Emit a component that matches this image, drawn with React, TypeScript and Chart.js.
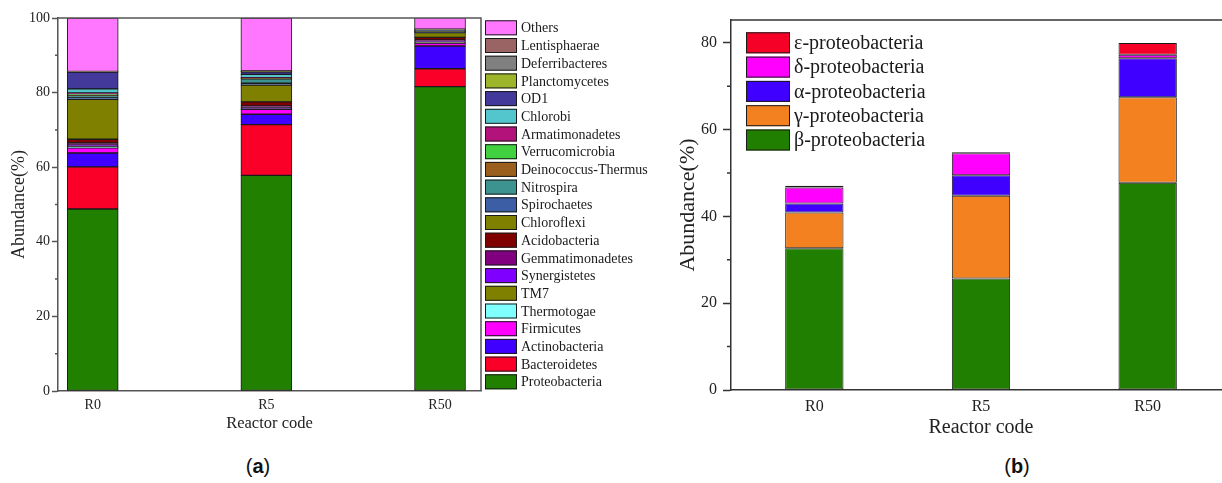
import React, { useEffect, useRef } from 'react';
import { Chart, registerables } from 'chart.js';

Chart.register(...registerables);

// ---------- Data: panel (a), phylum level (bottom of stack first) ----------
const reactorsA = ['R0', 'R5', 'R50'];
const Proteobacteria = [48.8, 57.8, 81.6];
const Bacteroidetes = [11.3, 13.6, 4.8];
const Actinobacteria = [3.7, 2.8, 6.1];
const Firmicutes = [1.4, 1.3, 0.8];
const Thermotogae = [0.1, 0.05, 0.05];
const TM7 = [0.2, 0.1, 0.15];
const Synergistetes = [0.4, 0.3, 0.2];
const Gemmatimonadetes = [0.6, 0.45, 0.4];
const Acidobacteria = [1.0, 1.1, 0.7];
const Chloroflexi = [10.7, 4.5, 1.3];
const Spirochaetes = [0.4, 0.5, 0.1];
const Nitrospira = [0.6, 1.2, 0.1];
const DeinococcusThermus = [0.1, 0.1, 0.05];
const Verrucomicrobia = [0.4, 0.1, 0.05];
const Armatimonadetes = [0.2, 0.1, 0.05];
const Chlorobi = [1.1, 0.9, 0.1];
const OD1 = [4.5, 0.7, 0.2];
const Planctomycetes = [0.05, 0.1, 0.1];
const Deferribacteres = [0.05, 0.05, 0.1];
const Lentisphaerae = [0.05, 0.05, 0.05];
const Others = [14.35, 14.2, 3.1];

const phylumNames = [
  'Proteobacteria', 'Bacteroidetes', 'Actinobacteria', 'Firmicutes', 'Thermotogae', 'TM7',
  'Synergistetes', 'Gemmatimonadetes', 'Acidobacteria', 'Chloroflexi', 'Spirochaetes',
  'Nitrospira', 'Deinococcus-Thermus', 'Verrucomicrobia', 'Armatimonadetes', 'Chlorobi',
  'OD1', 'Planctomycetes', 'Deferribacteres', 'Lentisphaerae', 'Others',
];
const phylumValues = [
  Proteobacteria, Bacteroidetes, Actinobacteria, Firmicutes, Thermotogae, TM7,
  Synergistetes, Gemmatimonadetes, Acidobacteria, Chloroflexi, Spirochaetes,
  Nitrospira, DeinococcusThermus, Verrucomicrobia, Armatimonadetes, Chlorobi,
  OD1, Planctomycetes, Deferribacteres, Lentisphaerae, Others,
];
const phylumColors = [
  '#218000', '#FA0028', '#3F00FF', '#FF00FF', '#80FFFF', '#808000',
  '#8000FF', '#800080', '#800000', '#7F7F00', '#3B5EA4',
  '#3C938F', '#9A5F1C', '#40D040', '#B3127B', '#52C6CC',
  '#42399A', '#9DB52B', '#808080', '#9B6464', '#FF77FF',
];

// ---------- Data: panel (b), Proteobacteria classes ----------
const reactorsB = ['R0', 'R5', 'R50'];
const betaProteo = [32.7, 25.7, 47.8];
const gammaProteo = [8.2, 19.1, 19.7];
const alphaProteo = [2.1, 4.7, 9.0];
const deltaProteo = [3.7, 5.1, 0.8];
const epsilonProteo = [0.4, 0.2, 2.7];

const classNames = ['β-proteobacteria', 'γ-proteobacteria', 'α-proteobacteria', 'δ-proteobacteria', 'ε-proteobacteria'];
const classValues = [betaProteo, gammaProteo, alphaProteo, deltaProteo, epsilonProteo];
const classColors = ['#207F00', '#F48120', '#3F00FF', '#FF00FF', '#F50027'];

const SERIF = "'Liberation Serif', 'Times New Roman', serif";

// Legend drawn beside / inside the plot from the dataset list (top of stack first)
const boxLegend = {
  id: 'boxLegend',
  afterDraw(chart: any, _args: any, opts: any) {
    const { ctx, chartArea } = chart;
    const ds = chart.data.datasets.slice().reverse();
    ctx.save();
    ctx.font = `${opts.fontSize}px ${SERIF}`;
    ctx.textBaseline = 'middle';
    ctx.textAlign = 'left';
    ds.forEach((d: any, i: number) => {
      const x = (opts.anchor === 'right' ? chartArea.right : chartArea.left) + opts.dx;
      const y = chartArea.top + opts.dy + i * opts.rowHeight;
      ctx.fillStyle = d.backgroundColor;
      ctx.fillRect(x, y, opts.boxWidth, opts.boxHeight);
      ctx.strokeStyle = '#1a1a1a';
      ctx.lineWidth = 1;
      ctx.strokeRect(x + 0.5, y + 0.5, opts.boxWidth - 1, opts.boxHeight - 1);
      ctx.fillStyle = '#1a1a1a';
      ctx.fillText(d.label, x + opts.boxWidth + opts.gap, y + opts.boxHeight / 2 + 1);
    });
    ctx.restore();
  },
};

// Plot frame (top + right) and short minor ticks on the y axis
const frameMinor = {
  id: 'frameMinor',
  afterDraw(chart: any, _args: any, opts: any) {
    const { ctx, chartArea } = chart;
    const { left, right, top, bottom } = chartArea;
    const y = chart.scales.y;
    ctx.save();
    ctx.strokeStyle = opts.color;
    ctx.lineWidth = opts.width;
    ctx.beginPath();
    ctx.moveTo(left, top);
    ctx.lineTo(right, top);
    ctx.lineTo(right, bottom);
    ctx.stroke();
    ctx.beginPath();
    const ticks = y.ticks;
    for (let i = 0; i < ticks.length - 1; i++) {
      const mid = (ticks[i].value + ticks[i + 1].value) / 2;
      const p = y.getPixelForValue(mid);
      ctx.moveTo(left - opts.minorLength, p);
      ctx.lineTo(left, p);
    }
    ctx.stroke();
    ctx.restore();
  },
};

function PanelA() {
  const ref = useRef<HTMLCanvasElement>(null);
  useEffect(() => {
    const axisColor = '#555';
    const chart = new Chart(ref.current as HTMLCanvasElement, {
      type: 'bar',
      data: {
        datasets: phylumNames.map((name, k) => ({
          label: name,
          data: phylumValues[k].map((v, i) => ({ x: i, y: v })),
          backgroundColor: phylumColors[k],
          borderColor: '#1a1a1a',
          borderWidth: 1,
          borderSkipped: false,
          barThickness: 51,
        })),
      },
      options: {
        animation: false,
        responsive: false,
        maintainAspectRatio: false,
        layout: { padding: { left: 0, right: 184, top: 18, bottom: 0 } },
        plugins: {
          legend: { display: false },
          tooltip: { enabled: false },
          boxLegend: { anchor: 'right', dx: 4, dy: 2.3, rowHeight: 17.7, boxWidth: 32, boxHeight: 15, gap: 4, fontSize: 14 },
          frameMinor: { color: axisColor, width: 1.5, minorLength: 3 },
        } as any,
        scales: {
          x: {
            type: 'linear',
            stacked: true,
            min: -0.2,
            max: 2.236,
            offset: false,
            grid: { display: false, drawTicks: false },
            border: { color: axisColor, width: 1.5 },
            ticks: {
              stepSize: 1,
              includeBounds: false,
              padding: 6,
              color: '#222',
              font: { family: SERIF, size: 14 },
              callback: (v: any) => reactorsA[v] ?? '',
            },
            title: {
              display: true,
              text: 'Reactor code',
              color: '#222',
              font: { family: SERIF, size: 16.5 },
              padding: { top: 0, bottom: 11 },
            },
            afterFit: (s: any) => { s.height = 54; },
          },
          y: {
            stacked: true,
            min: 0,
            max: 100,
            grid: { drawOnChartArea: false, tickLength: 6, tickColor: axisColor, tickWidth: 1.5 },
            border: { color: axisColor, width: 1.5 },
            ticks: { stepSize: 20, padding: 2, color: '#222', font: { family: SERIF, size: 14 } },
            title: {
              display: true,
              text: 'Abundance(%)',
              color: '#222',
              font: { family: SERIF, size: 18 },
              padding: { top: 8, bottom: 0 },
            },
            afterFit: (s: any) => { s.width = 58; },
          },
        },
      } as any,
      plugins: [boxLegend, frameMinor],
    });
    return () => chart.destroy();
  }, []);
  return <canvas ref={ref} width={665} height={445} style={{ position: 'absolute', left: 0, top: 0, width: 665, height: 445 }} />;
}

function PanelB() {
  const ref = useRef<HTMLCanvasElement>(null);
  useEffect(() => {
    const axisColor = '#333';
    const chart = new Chart(ref.current as HTMLCanvasElement, {
      type: 'bar',
      data: {
        labels: reactorsB,
        datasets: classNames.map((name, k) => ({
          label: name,
          data: classValues[k],
          backgroundColor: classColors[k],
          borderColor: '#1a1a1a',
          borderWidth: 1,
          borderSkipped: false,
          categoryPercentage: 1,
          barPercentage: 0.35,
        })),
      },
      options: {
        animation: false,
        responsive: false,
        maintainAspectRatio: false,
        layout: { padding: { left: 0, right: 14, top: 20, bottom: 0 } },
        plugins: {
          legend: { display: false },
          tooltip: { enabled: false },
          boxLegend: { anchor: 'left', dx: 15, dy: 12.3, rowHeight: 24.3, boxWidth: 44, boxHeight: 21, gap: 4, fontSize: 20 },
          frameMinor: { color: axisColor, width: 1.5, minorLength: 4 },
        } as any,
        scales: {
          x: {
            stacked: true,
            grid: { display: false, drawTicks: false },
            border: { color: axisColor, width: 1.5 },
            ticks: { padding: 7, color: '#222', font: { family: SERIF, size: 16 } },
            title: {
              display: true,
              text: 'Reactor code',
              color: '#222',
              font: { family: SERIF, size: 20 },
              padding: { top: 0, bottom: 5 },
            },
            afterFit: (s: any) => { s.height = 55; },
          },
          y: {
            stacked: true,
            min: 0,
            max: 85.3,
            grid: { drawOnChartArea: false, tickLength: 8, tickColor: axisColor, tickWidth: 1.5 },
            border: { color: axisColor, width: 1.5 },
            ticks: { stepSize: 20, includeBounds: false, padding: 6, color: '#222', font: { family: SERIF, size: 16 } },
            title: {
              display: true,
              text: 'Abundance(%)',
              color: '#222',
              font: { family: SERIF, size: 22 },
              padding: { top: 10, bottom: 0 },
            },
            afterFit: (s: any) => { s.width = 66; },
          },
        },
      } as any,
      plugins: [boxLegend, frameMinor],
    });
    return () => chart.destroy();
  }, []);
  return <canvas ref={ref} width={580} height={445} style={{ position: 'absolute', left: 665, top: 0, width: 580, height: 445 }} />;
}

const panelLabelStyle: React.CSSProperties = {
  position: 'absolute',
  top: 466,
  transform: 'translate(-50%, -50%)',
  fontFamily: "'Liberation Sans', Arial, sans-serif",
  fontSize: 20,
  color: '#111',
  whiteSpace: 'nowrap',
};

export default function App() {
  return (
    <div style={{ position: 'fixed', left: 0, top: 0, width: 1222, height: 483, overflow: 'hidden', background: '#fff' }}>
      <PanelA />
      <PanelB />
      <div style={{ ...panelLabelStyle, left: 258 }}>(<b>a</b>)</div>
      <div style={{ ...panelLabelStyle, left: 1017 }}>(<b>b</b>)</div>
    </div>
  );
}
